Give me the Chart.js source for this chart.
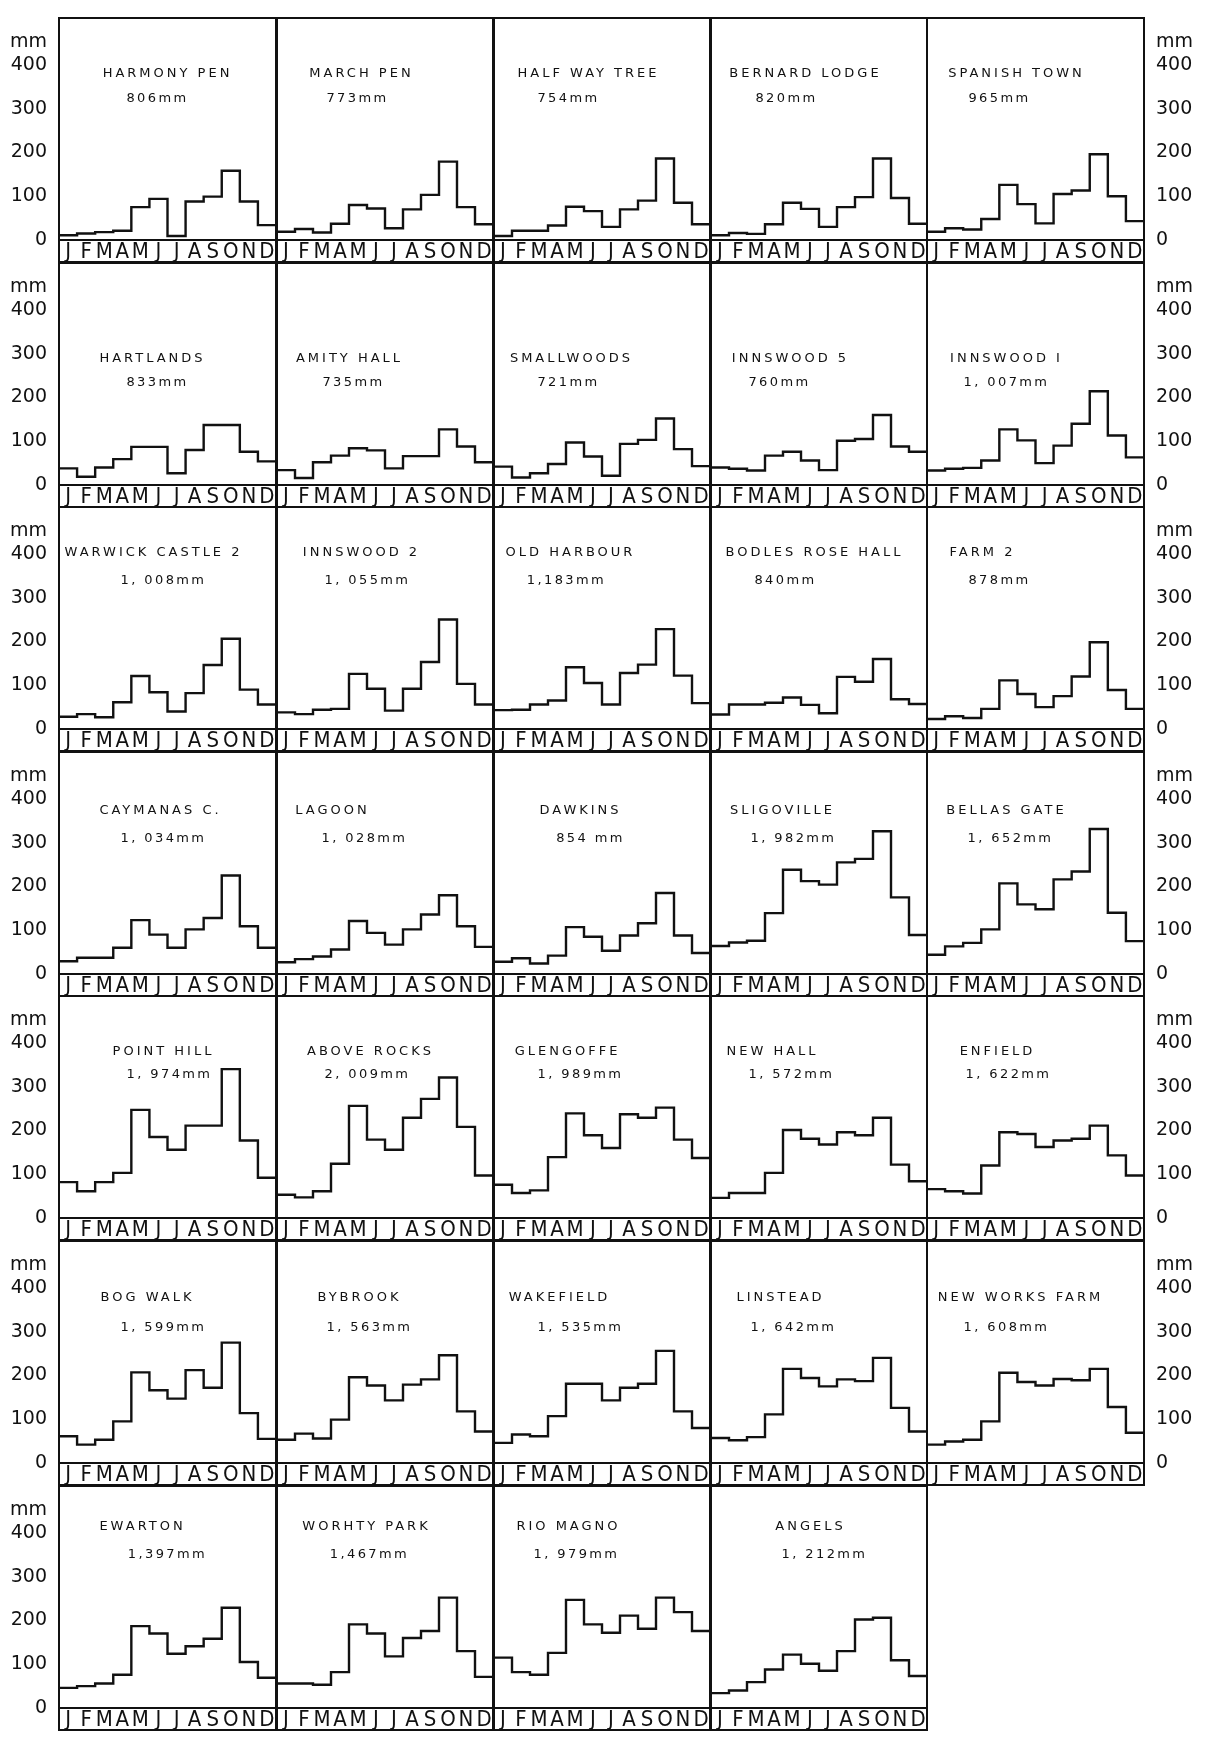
<!DOCTYPE html>
<html>
<head>
<meta charset="utf-8">
<script src="https://cdn.jsdelivr.net/npm/chart.js@4.4.1/dist/chart.umd.min.js"></script>
<style>
  html, body { margin: 0; padding: 0; background: #fff; }
  #page { position: relative; width: 1205px; height: 1747px; overflow: hidden; }
  #page canvas { position: absolute; }
  .lbl {
    position: absolute;
    transform: translate(-50%, -50%);
    white-space: nowrap;
    color: #111;
    font-family: 'DejaVu Sans', sans-serif;
    font-size: 13px;
    line-height: 1;
  }
  .lbl.name { letter-spacing: 3px; }
  .lbl.total { letter-spacing: 2.4px; }
</style>
</head>
<body>
<div id="page"></div>
<script>
/* =========================================================
   MONTHLY RAINFALL — 34 STATIONS (mm)
========================================================= */

const MONTHS = ["J", "F", "M", "A", "M", "J", "J", "A", "S", "O", "N", "D"];
const Y_TICKS = [0, 100, 200, 300, 400];

// row 1
const harmonyPen     = [11, 15, 18, 21, 75, 94, 9, 88, 99, 158, 88, 34];
const marchPen       = [19, 25, 17, 37, 80, 72, 27, 70, 103, 179, 75, 36];
const halfWayTree    = [9, 21, 21, 33, 76, 66, 30, 70, 90, 186, 85, 36];
const bernardLodge   = [11, 16, 14, 36, 85, 71, 30, 75, 98, 186, 96, 37];
const spanishTown    = [19, 27, 24, 48, 126, 82, 38, 105, 113, 196, 100, 43];
// row 2
const hartlands      = [38, 19, 40, 59, 87, 87, 27, 80, 137, 137, 76, 54];
const amityHall      = [34, 16, 52, 67, 84, 79, 38, 66, 66, 127, 88, 52];
const smallwoods     = [42, 17, 27, 48, 97, 65, 21, 94, 103, 152, 82, 43];
const innswood5      = [40, 37, 33, 67, 76, 56, 34, 101, 105, 160, 88, 76];
const innswood1      = [33, 37, 39, 56, 127, 102, 50, 90, 140, 214, 113, 63];
// row 3
const warwickCastle2 = [28, 34, 27, 61, 121, 84, 40, 82, 146, 206, 90, 56];
const innswood2      = [38, 34, 44, 46, 126, 92, 42, 92, 153, 250, 103, 56];
const oldHarbour     = [43, 44, 56, 65, 141, 105, 56, 128, 147, 228, 122, 59];
const bodlesRoseHall = [33, 56, 56, 60, 72, 55, 36, 119, 108, 160, 68, 57];
const farm2          = [23, 29, 25, 46, 111, 80, 50, 75, 120, 198, 89, 46];
// row 4
const caymanasC      = [29, 37, 37, 60, 123, 90, 60, 102, 128, 225, 109, 60];
const lagoon         = [27, 34, 40, 56, 121, 94, 67, 102, 136, 180, 109, 62];
const dawkins        = [28, 36, 24, 42, 107, 85, 53, 88, 116, 185, 88, 48];
const sligoville     = [64, 72, 76, 139, 238, 212, 204, 255, 263, 326, 175, 89];
const bellasGate     = [44, 63, 71, 102, 207, 159, 148, 216, 234, 331, 140, 75];
// row 5
const pointHill      = [82, 61, 82, 103, 247, 185, 156, 211, 211, 340, 177, 92];
const aboveRocks     = [53, 47, 61, 124, 256, 179, 156, 229, 272, 321, 208, 97];
const glengoffe      = [76, 57, 63, 139, 239, 189, 160, 237, 229, 252, 179, 137];
const newHall        = [46, 57, 57, 103, 201, 181, 168, 196, 189, 229, 122, 84];
const enfield        = [66, 61, 56, 120, 196, 192, 162, 177, 181, 211, 143, 97];
// row 6
const bogWalk        = [61, 42, 53, 95, 207, 166, 147, 212, 172, 275, 114, 55];
const bybrook        = [53, 67, 56, 99, 196, 177, 143, 179, 191, 246, 118, 72];
const wakefield      = [46, 65, 61, 107, 181, 181, 143, 172, 181, 256, 118, 80];
const linstead       = [57, 52, 59, 111, 215, 194, 175, 191, 187, 240, 126, 72];
const newWorksFarm   = [42, 49, 53, 95, 206, 185, 177, 192, 189, 215, 128, 69];
// row 7
const ewarton        = [46, 50, 56, 76, 187, 170, 124, 141, 158, 229, 105, 69];
const worhtyPark     = [56, 56, 53, 82, 191, 170, 118, 160, 176, 252, 130, 71];
const rioMagno       = [115, 82, 76, 126, 247, 191, 172, 211, 181, 252, 219, 176];
const angels         = [34, 40, 59, 88, 122, 101, 85, 130, 202, 206, 109, 73];

const STATIONS = [
  "HARMONY PEN", "MARCH PEN", "HALF WAY TREE", "BERNARD LODGE", "SPANISH TOWN",
  "HARTLANDS", "AMITY HALL", "SMALLWOODS", "INNSWOOD 5", "INNSWOOD I",
  "WARWICK CASTLE 2", "INNSWOOD 2", "OLD HARBOUR", "BODLES ROSE HALL", "FARM 2",
  "CAYMANAS C.", "LAGOON", "DAWKINS", "SLIGOVILLE", "BELLAS GATE",
  "POINT HILL", "ABOVE ROCKS", "GLENGOFFE", "NEW HALL", "ENFIELD",
  "BOG WALK", "BYBROOK", "WAKEFIELD", "LINSTEAD", "NEW WORKS FARM",
  "EWARTON", "WORHTY PARK", "RIO MAGNO", "ANGELS"
];

const TOTALS = [
  "806mm", "773mm", "754mm", "820mm", "965mm",
  "833mm", "735mm", "721mm", "760mm", "1, 007mm",
  "1, 008mm", "1, 055mm", "1,183mm", "840mm", "878mm",
  "1, 034mm", "1, 028mm", "854 mm", "1, 982mm", "1, 652mm",
  "1, 974mm", "2, 009mm", "1, 989mm", "1, 572mm", "1, 622mm",
  "1, 599mm", "1, 563mm", "1, 535mm", "1, 642mm", "1, 608mm",
  "1,397mm", "1,467mm", "1, 979mm", "1, 212mm"
];

const SERIES = [
  harmonyPen, marchPen, halfWayTree, bernardLodge, spanishTown,
  hartlands, amityHall, smallwoods, innswood5, innswood1,
  warwickCastle2, innswood2, oldHarbour, bodlesRoseHall, farm2,
  caymanasC, lagoon, dawkins, sligoville, bellasGate,
  pointHill, aboveRocks, glengoffe, newHall, enfield,
  bogWalk, bybrook, wakefield, linstead, newWorksFarm,
  ewarton, worhtyPark, rioMagno, angels
];

/* =========================================================
   LAYOUT
========================================================= */

const INK = "#111";
const FONT = "'DejaVu Sans', sans-serif";
const STRIP_FONT = "'DejaVu Sans Condensed', 'DejaVu Sans', sans-serif";

const PAGE_W = 1205;
const GRID_LEFT = 59;
const PANEL_W = 217;
const FIRST_STRIP_TOP = 240;
const ROW_PITCH = 244.6;
const STRIP_H = 22;
const PLOT_H = 222;
const Y_MAX = 507;          // mm at the top of a panel
const UNIT_TICK = 452;      // where the "mm" caption sits on the axis

// label offsets: [name dx, total dx] from panel centre, and per-row dy from strip top
const LABEL_DX = [
  [0, -10], [-23, -27], [-13, -33], [-13, -32], [-19, -36],
  [-15, -10], [-35, -31], [-30, -33], [-28, -39], [-29, -29],
  [-14, -4], [-23, -17], [-31, -35], [-4, -33], [-53, -36],
  [-7, -4], [-52, -20], [-21, -11], [-36, -25], [-29, -25],
  [-4, 2], [-14, -17], [-34, -21], [-46, -27], [-38, -27],
  [-20, -4], [-25, -15], [-42, -21], [-38, -25], [-15, -29],
  [-25, 0], [-18, -15], [-33, -25], [-8, 6]
];
const NAME_DY = [-168, -128, -178, -165, -168, -167, -183];
const TOTAL_DY = [-143, -104, -150, -137, -145, -137, -155];

function stripTop(row) {
  return Math.round(FIRST_STRIP_TOP + ROW_PITCH * row);
}

/* =========================================================
   PANEL FRAME PLUGIN
========================================================= */

const panelFrame = {
  id: "panelFrame",
  afterDraw(chart) {
    const { ctx, chartArea: a } = chart;
    const stripBottom = chart.scales.x.bottom;
    ctx.save();
    ctx.strokeStyle = INK;
    ctx.lineWidth = 2;
    ctx.strokeRect(a.left, a.top, a.right - a.left, stripBottom - a.top);
    ctx.beginPath();
    ctx.moveTo(a.left, a.bottom);
    ctx.lineTo(a.right, a.bottom);
    ctx.stroke();
    ctx.restore();
  }
};

Chart.defaults.font.family = FONT;
Chart.defaults.color = INK;

/* =========================================================
   RENDER
========================================================= */

const page = document.getElementById("page");

function addLabel(text, cls, x, y) {
  const el = document.createElement("div");
  el.className = "lbl " + cls;
  el.textContent = text;
  el.style.left = x + "px";
  el.style.top = y + "px";
  page.appendChild(el);
}

SERIES.forEach((rain, i) => {
  const row = Math.floor(i / 5);
  const col = i % 5;
  const top = stripTop(row);

  const isLeft = col === 0;
  const isRight = col === 4;

  const left = isLeft ? 0 : GRID_LEFT + col * PANEL_W - 1;
  const width = isLeft
    ? GRID_LEFT + PANEL_W + 1
    : isRight ? PAGE_W - left : PANEL_W + 2;

  const canvas = document.createElement("canvas");
  canvas.width = width;
  canvas.height = PLOT_H + STRIP_H + 2;
  canvas.style.left = left + "px";
  canvas.style.top = (top - PLOT_H - 1) + "px";
  canvas.style.width = width + "px";
  canvas.style.height = canvas.height + "px";
  page.appendChild(canvas);

  const axisW = isLeft ? GRID_LEFT : width - 1 - PANEL_W;

  new Chart(canvas, {
    type: "line",
    data: {
      datasets: [{
        data: rain.map((v, m) => ({ x: m, y: v })).concat([{ x: 12, y: rain[11] }]),
        stepped: "before",
        borderColor: INK,
        borderWidth: 2.4,
        borderJoinStyle: "miter",
        pointRadius: 0,
        fill: false
      }]
    },
    options: {
      responsive: false,
      devicePixelRatio: 1,
      animation: false,
      events: [],
      layout: {
        padding: { top: 1, bottom: 1, left: isLeft ? 0 : 1, right: isRight ? 0 : 1 }
      },
      plugins: {
        legend: { display: false },
        tooltip: { enabled: false }
      },
      scales: {
        x: {
          type: "linear",
          min: 0,
          max: 12,
          grid: { display: false, drawTicks: false },
          border: { display: false },
          afterBuildTicks: s => { s.ticks = MONTHS.map((m, k) => ({ value: k + 0.5 })); },
          afterFit: s => { s.height = STRIP_H; s.paddingLeft = 0; s.paddingRight = 0; },
          ticks: {
            autoSkip: false,
            maxRotation: 0,
            minRotation: 0,
            padding: 1,
            color: INK,
            font: { family: STRIP_FONT, size: 22, lineHeight: 1 },
            callback: (v, k) => MONTHS[k]
          }
        },
        y: {
          display: isLeft || isRight,
          position: isRight ? "right" : "left",
          min: 0,
          max: Y_MAX,
          grid: { display: false, drawTicks: false },
          border: { display: false },
          afterBuildTicks: s => {
            s.ticks = Y_TICKS.map(v => ({ value: v })).concat([{ value: UNIT_TICK }]);
          },
          afterFit: s => { s.width = axisW; s.paddingTop = 0; s.paddingBottom = 0; },
          ticks: {
            padding: 12,
            color: INK,
            font: { size: 19 },
            callback: v => (v === UNIT_TICK ? "mm" : v)
          }
        }
      }
    },
    plugins: [panelFrame]
  });

  const cx = GRID_LEFT + col * PANEL_W + PANEL_W / 2;
  addLabel(STATIONS[i], "name", cx + LABEL_DX[i][0], top + NAME_DY[row]);
  addLabel(TOTALS[i], "total", cx + LABEL_DX[i][1], top + TOTAL_DY[row]);
});
</script>
</body>
</html>
